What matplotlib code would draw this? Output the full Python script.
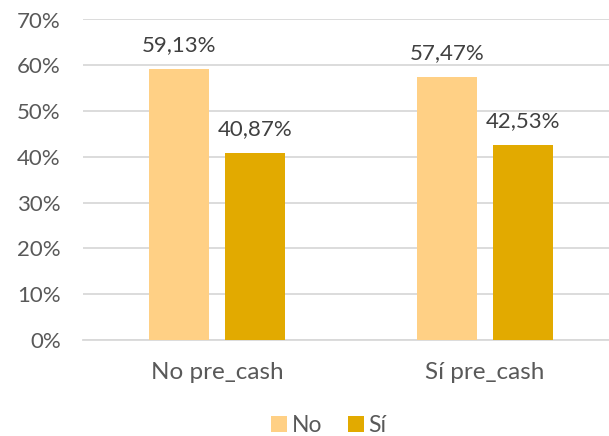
import numpy as np
import matplotlib.pyplot as plt

plt.rcParams['font.family'] = ['Lato', 'DejaVu Sans']

categories = ['No pre_cash', 'Sí pre_cash']
series_names = ['No', 'Sí']
no_values = [59.13, 57.47]
si_values = [40.87, 42.53]
y_ticks = [0, 10, 20, 30, 40, 50, 60, 70]

colors = ['#FFD085', '#E2AA00']
text_color = '#595959'
label_color = '#404040'
grid_color = '#D9D9D9'
fs = 16

fig = plt.figure(figsize=(6.09, 4.36), dpi=100)
ax = fig.add_axes([83 / 609, 1 - 340 / 436, 536 / 609, 320.5 / 436])

x = np.arange(len(categories))
width = 0.224
offset = 0.143

bars_no = ax.bar(x - offset, no_values, width, color=colors[0], label=series_names[0], zorder=3)
bars_si = ax.bar(x + offset, si_values, width, color=colors[1], label=series_names[1], zorder=3)

for bars, vals in [(bars_no, no_values), (bars_si, si_values)]:
    for b, v in zip(bars, vals):
        ax.annotate(f'{v:.2f}%'.replace('.', ','),
                    (b.get_x() + b.get_width() / 2, v),
                    xytext=(0, 10), textcoords='offset points',
                    ha='center', va='bottom', fontsize=fs,
                    color=label_color)

ax.set_xlim(-0.5, 1.5)
ax.set_ylim(0, 70)
ax.set_yticks(y_ticks)
ax.set_yticklabels([f'{t}%' for t in y_ticks])
ax.set_xticks(x)
ax.set_xticklabels(categories)

ax.yaxis.grid(True, color=grid_color, linewidth=1.3, zorder=0)
for side in ['top', 'right', 'left']:
    ax.spines[side].set_visible(False)
ax.spines['bottom'].set_color(grid_color)
ax.spines['bottom'].set_linewidth(1.3)

ax.tick_params(axis='both', length=0, labelsize=fs, labelcolor=text_color)
ax.tick_params(axis='x', labelsize=17.5, pad=16)
ax.tick_params(axis='y', pad=16)

leg = fig.legend(handles=[bars_no, bars_si], loc='center', bbox_to_anchor=(0.54, 0.025),
                 ncol=2, frameon=False, fontsize=16.5, handlelength=0.7,
                 handleheight=0.7, handletextpad=0.2, columnspacing=1.1)
for t in leg.get_texts():
    t.set_color(text_color)

fig.savefig('out.png', dpi=100)
